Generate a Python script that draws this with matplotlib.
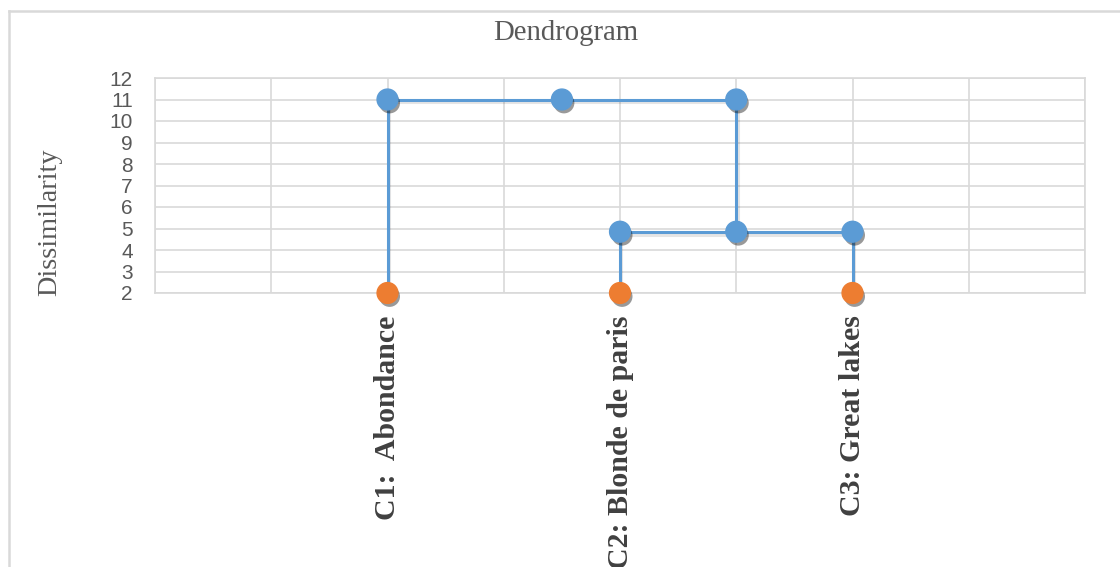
import matplotlib
matplotlib.use("Agg")
import matplotlib.pyplot as plt
import matplotlib.patheffects as pe
from matplotlib.lines import Line2D

# leaves of the tree
leaf_names = ["C1:  Abondance", "C2: Blonde de paris", "C3: Great lakes"]
leaf_x = [2, 4, 6]
leaf_y = [2, 2, 2]

# link between C1 and the C2/C3 group
upper_x = [2, 2, 3.5, 5, 5]
upper_y = [2, 11, 11, 11, 4.85]
# link between C2 and C3
lower_x = [4, 4, 5, 6, 6]
lower_y = [2, 4.85, 4.85, 4.85, 2]

# internal nodes
node_x = [2, 3.5, 5, 4, 5, 6]
node_y = [11, 11, 11, 4.85, 4.85, 4.85]

BLUE = "#5B9BD5"
ORANGE = "#ED7D31"
GRID = "#D9D9D9"
TEXT = "#595959"

fig = plt.figure(figsize=(11.2, 5.67), dpi=100)
ax = fig.add_axes([155 / 1120, 1 - 293 / 567, 930 / 1120, 215 / 567])

line_fx = [pe.SimpleLineShadow(offset=(1, -2), alpha=0.1, shadow_color="k"), pe.Normal()]
mark_fx = [pe.SimplePatchShadow(offset=(1.5, -2.5), alpha=0.4, shadow_rgbFace="k"), pe.Normal()]

for xs, ys in [(upper_x, upper_y), (lower_x, lower_y)]:
    ax.plot(xs, ys, color=BLUE, lw=2.2, zorder=3, path_effects=line_fx)

ax.plot(node_x, node_y, ls="none", marker="o", ms=15, mfc=BLUE, mec=BLUE,
        zorder=4, path_effects=mark_fx)
ax.plot(leaf_x, leaf_y, ls="none", marker="o", ms=15, mfc=ORANGE, mec=ORANGE,
        zorder=4, clip_on=False, path_effects=mark_fx)

ax.set_xlim(0, 8)
ax.set_ylim(2, 12)
ax.set_xticks(range(0, 9))
ax.set_xticklabels([leaf_names[leaf_x.index(i)] if i in leaf_x else "" for i in range(0, 9)],
                   rotation=90, fontsize=21.5, fontweight="bold",
                   family="Liberation Serif", color="#404040")
ax.set_yticks(range(2, 13))
ax.set_yticklabels([str(v) for v in range(2, 13)], fontsize=15,
                   family="Liberation Sans", color=TEXT)
ax.tick_params(axis="x", length=0, pad=16)
ax.tick_params(axis="y", length=0, pad=16)
ax.grid(True, color=GRID, lw=1.2)
ax.set_axisbelow(True)
for s in ax.spines.values():
    s.set_color(GRID)
    s.set_linewidth(1.2)

fig.text(566 / 1120, 1 - 33 / 567, "Dendrogram", ha="center", va="center",
         fontsize=20.7, family="Liberation Serif", color=TEXT)
fig.text(50 / 1120, 1 - 222 / 567, "Dissimilarity", ha="center", va="center",
         rotation=90, fontsize=20.3, family="Liberation Serif", color=TEXT)

# chart frame
fig.add_artist(Line2D([9 / 1120, 1], [1 - 11 / 567] * 2, transform=fig.transFigure,
                      color=GRID, lw=1.8))
fig.add_artist(Line2D([9 / 1120] * 2, [0, 1 - 11 / 567], transform=fig.transFigure,
                      color=GRID, lw=1.8))

fig.savefig("out.png", dpi=100)
